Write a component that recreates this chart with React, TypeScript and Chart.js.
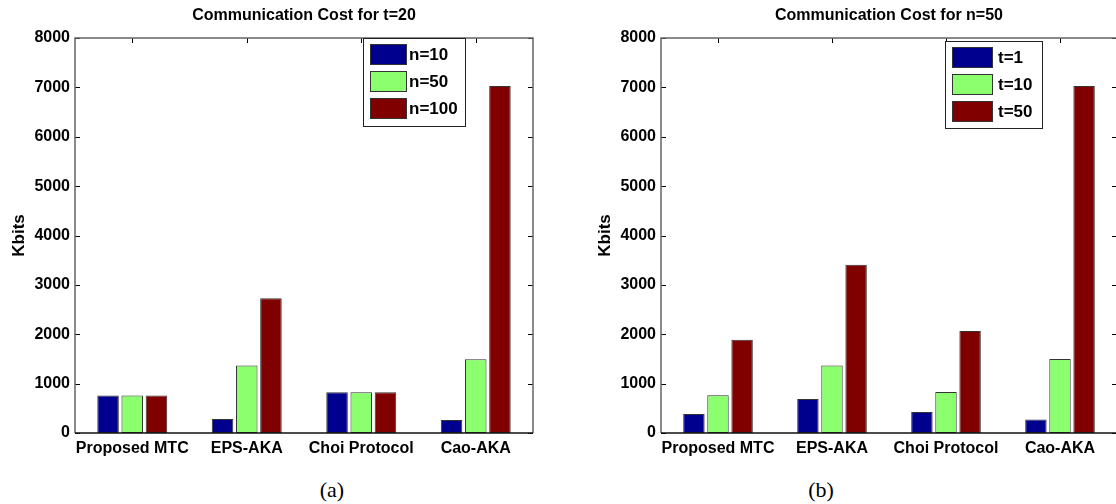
import React, { useEffect, useRef } from 'react';
import { Chart, registerables } from 'chart.js';

Chart.register(...registerables);

// ---------- data ----------
const categories = ['Proposed MTC', 'EPS-AKA', 'Choi Protocol', 'Cao-AKA'];
const seriesColors = ['#00008f', '#8cff6e', '#800000'];

const leftTitle = 'Communication Cost for t=20';
const leftSeriesLabels = ['n=10', 'n=50', 'n=100'];
const leftN10 = [760, 285, 825, 265];
const leftN50 = [760, 1365, 825, 1495];
const leftN100 = [760, 2730, 825, 7030];

const rightTitle = 'Communication Cost for n=50';
const rightSeriesLabels = ['t=1', 't=10', 't=50'];
const rightT1 = [385, 690, 425, 275];
const rightT10 = [765, 1365, 830, 1500];
const rightT50 = [1890, 3410, 2065, 7030];

const yMin = 0;
const yMax = 8000;
const yStep = 1000;
const yAxisTitle = 'Kbits';
const captions = ['(a)', '(b)'];

// ---------- styling ----------
const FONT = "'Liberation Sans', Arial, Helvetica, sans-serif";

type LegendParams = {
  title: string;
  lx: number;
  ly: number;
  lw: number;
  lh: number;
  swatchW: number;
  textX: number;
};

function makeMatlabPlugin(p: LegendParams) {
  return {
    id: 'matlabLook',
    afterDatasetsDraw(chart: any) {
      const { ctx, chartArea: a, scales } = chart;
      const ys = scales.y;
      const xs = scales.x;
      ctx.save();
      // inward tick marks
      ctx.strokeStyle = '#000';
      ctx.lineWidth = 1;
      ctx.beginPath();
      ys.ticks.forEach((t: any) => {
        const py = Math.round(ys.getPixelForValue(t.value)) + 0.5;
        ctx.moveTo(a.left, py);
        ctx.lineTo(a.left + 5, py);
        ctx.moveTo(a.right, py);
        ctx.lineTo(a.right - 5, py);
      });
      xs.ticks.forEach((_t: any, i: number) => {
        const px = Math.round(xs.getPixelForTick(i)) + 0.5;
        ctx.moveTo(px, a.top);
        ctx.lineTo(px, a.top + 5);
      });
      ctx.stroke();

      // frame
      ctx.strokeStyle = '#666';
      ctx.lineWidth = 1.5;
      ctx.beginPath();
      ctx.moveTo(a.left, a.bottom);
      ctx.lineTo(a.left, a.top);
      ctx.lineTo(a.right, a.top);
      ctx.lineTo(a.right, a.bottom);
      ctx.stroke();
      ctx.strokeStyle = '#111';
      ctx.beginPath();
      ctx.moveTo(a.left, a.bottom);
      ctx.lineTo(a.right, a.bottom);
      ctx.stroke();

      // legend
      const bx = Math.round(a.left + p.lx);
      const by = Math.round(a.top + p.ly);
      ctx.fillStyle = '#fff';
      ctx.fillRect(bx, by, p.lw, p.lh);
      ctx.strokeStyle = '#222';
      ctx.lineWidth = 1;
      ctx.strokeRect(bx + 0.5, by + 0.5, p.lw, p.lh);
      ctx.font = `bold 17px ${FONT}`;
      ctx.textBaseline = 'middle';
      ctx.textAlign = 'left';
      chart.data.datasets.forEach((ds: any, i: number) => {
        const sy = by + 6 + i * 27;
        ctx.fillStyle = ds.backgroundColor;
        ctx.fillRect(bx + 7, sy, p.swatchW, 21);
        ctx.strokeStyle = '#333';
        ctx.strokeRect(bx + 7.5, sy + 0.5, p.swatchW - 1, 20);
        ctx.fillStyle = '#000';
        ctx.fillText(ds.label, bx + p.textX, sy + 11);
      });

      // title
      ctx.font = `bold 16px ${FONT}`;
      ctx.textAlign = 'center';
      ctx.textBaseline = 'middle';
      ctx.fillStyle = '#000';
      ctx.fillText(p.title, (a.left + a.right) / 2, 16);
      ctx.restore();
    },
  };
}

function makeConfig(
  seriesLabels: string[],
  series: number[][],
  padRight: number,
  legend: LegendParams
): any {
  return {
    type: 'bar',
    data: {
      labels: categories,
      datasets: series.map((d, i) => ({
        label: seriesLabels[i],
        data: d,
        backgroundColor: seriesColors[i],
        borderColor: '#333',
        borderWidth: 1,
        borderSkipped: false,
        categoryPercentage: 0.634,
        barPercentage: 0.89,
      })),
    },
    options: {
      responsive: false,
      animation: false,
      events: [],
      layout: { padding: { left: 0, right: padRight, top: 38, bottom: 0 } },
      plugins: {
        legend: { display: false },
        title: { display: false },
        tooltip: { enabled: false },
      },
      scales: {
        x: {
          grid: { display: false, drawTicks: false },
          border: { display: false },
          ticks: {
            color: '#000',
            font: { family: FONT, size: 16, weight: 'bold' },
            padding: 6,
            maxRotation: 0,
            autoSkip: false,
          },
          afterFit: (s: any) => {
            s.height = 37;
          },
        },
        y: {
          min: yMin,
          max: yMax,
          grid: { display: false, drawTicks: false },
          border: { display: false },
          ticks: {
            stepSize: yStep,
            color: '#000',
            font: { family: FONT, size: 16, weight: 'bold' },
            padding: 5,
            callback: (v: any) => String(v),
          },
          title: {
            display: true,
            text: yAxisTitle,
            color: '#000',
            font: { family: FONT, size: 17, weight: 'bold' },
            padding: { top: 9, bottom: 0 },
          },
          afterFit: (s: any) => {
            s.width = 75;
          },
        },
      },
    },
    plugins: [makeMatlabPlugin(legend)],
  };
}

function BarChart({ cfg, left, width }: { cfg: any; left: number; width: number }) {
  const ref = useRef<HTMLCanvasElement | null>(null);
  useEffect(() => {
    if (!ref.current) return;
    const chart = new Chart(ref.current, cfg);
    return () => chart.destroy();
  }, []);
  return (
    <canvas
      ref={ref}
      width={width}
      height={470}
      style={{ position: 'absolute', left, top: 0, width, height: 470 }}
    />
  );
}

export default function App() {
  const leftCfg = makeConfig(leftSeriesLabels, [leftN10, leftN50, leftN100], 27, {
    title: leftTitle,
    lx: 288,
    ly: 0,
    lw: 102,
    lh: 88,
    swatchW: 37,
    textX: 46,
  });
  const rightCfg = makeConfig(rightSeriesLabels, [rightT1, rightT10, rightT50], 4, {
    title: rightTitle,
    lx: 284,
    ly: 3,
    lw: 97,
    lh: 87,
    swatchW: 41,
    textX: 53,
  });
  const capStyle: React.CSSProperties = {
    position: 'absolute',
    top: 478,
    width: 60,
    textAlign: 'center',
    fontFamily: "'Liberation Serif', 'Times New Roman', serif",
    fontSize: 22,
    lineHeight: '24px',
    color: '#000',
  };
  return (
    <div
      style={{
        position: 'fixed',
        left: 0,
        top: 0,
        width: 1116,
        height: 504,
        overflow: 'hidden',
        background: '#fff',
      }}
    >
      <BarChart cfg={leftCfg} left={0} width={560} />
      <BarChart cfg={rightCfg} left={586} width={535} />
      <div style={{ ...capStyle, left: 332 - 30 }}>{captions[0]}</div>
      <div style={{ ...capStyle, left: 821 - 30 }}>{captions[1]}</div>
    </div>
  );
}
